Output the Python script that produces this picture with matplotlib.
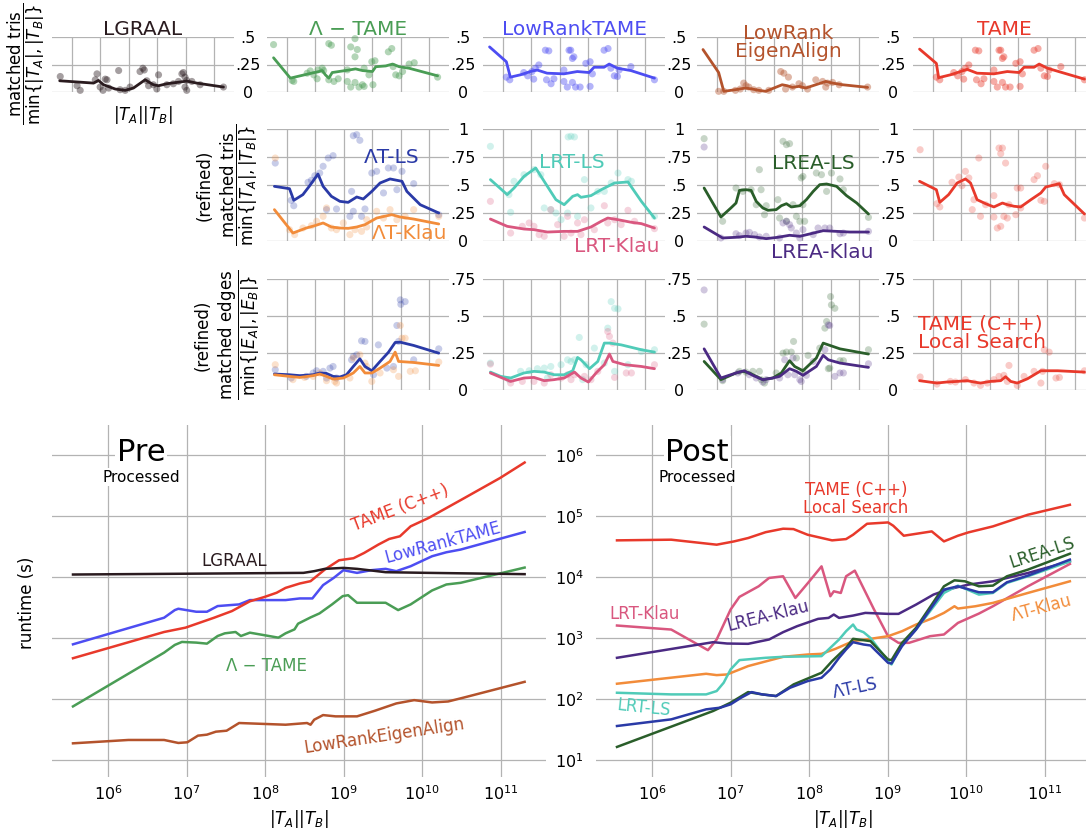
import numpy as np
import matplotlib
matplotlib.use("Agg")
import matplotlib.pyplot as plt
from matplotlib.ticker import NullLocator

plt.rcParams['font.family'] = ['DejaVu Sans']
plt.rcParams['mathtext.fontset'] = 'dejavusans'

# ---------------- colours ----------------
C_LGRAAL = '#2a1b1f'
C_LTAME = '#4a9d55'
C_LRTAME = '#4d4df2'
C_LREA = '#b4532c'
C_TAME = '#e8392b'
C_LTLS = '#2a3aa7'
C_LTKLAU = '#f28c3a'
C_LRTLS = '#50cbb8'
C_LRTKLAU = '#d9577f'
C_LREALS = '#2a5e2a'
C_LREAKLAU = '#4b2a83'

# ================= DATA (x as log10 |TA||TB|) =================
# ---- Row 1: matched tris / min{|TA|,|TB|} (scatter + trend line) ----
lgraal_px = [5.59, 6.18, 6.29, 6.82, 6.88, 6.99, 7.09, 7.17, 7.23, 7.29, 7.64, 7.69, 7.87, 8.04, 8.39, 8.49, 8.54,
             8.63, 8.69, 8.86, 9.04, 8.98, 9.33, 9.56, 9.74, 9.86, 9.91, 9.97, 9.97, 10.03, 10.03, 10.21, 10.5, 11.32]
lgraal_py = [0.141, 0.057, 0.015, 0.111, 0.165, 0.045, 0.015, 0.117, 0.111, 0.036, 0.195, 0.021, 0.015, 0.045, 0.186,
             0.216, 0.2, 0.102, 0.057, 0.066, 0.156, 0.027, 0.066, 0.075, 0.096, 0.165, 0.177, 0.135, 0.045, 0.105,
             0.015, 0.096, 0.066, 0.045]
lgraal_lx = [5.57, 6.76, 6.93, 7.11, 7.52, 7.87, 8.16, 8.57, 8.86, 9.04, 9.33, 10.03, 10.38, 11.32]
lgraal_ly = [0.102, 0.081, 0.105, 0.066, 0.027, 0.015, 0.036, 0.111, 0.066, 0.057, 0.075, 0.099, 0.081, 0.045]

ltame_px = [5.53, 6.18, 6.24, 6.71, 6.82, 6.94, 7.06, 7.09, 7.24, 7.29, 7.47, 7.56, 7.47, 7.65, 7.8, 8.12, 8.12, 8.24,
            8.39, 8.47, 8.39, 8.24, 8.39, 8.53, 8.65, 8.71, 8.71, 8.88, 8.98, 9.09, 9.02, 9.56, 9.68, 9.73, 9.82, 9.94,
            10.06, 10.29, 10.47, 11.29]
ltame_py = [0.431, 0.105, 0.096, 0.171, 0.192, 0.156, 0.12, 0.201, 0.216, 0.195, 0.44, 0.425, 0.111, 0.096, 0.12,
            0.201, 0.096, 0.41, 0.485, 0.386, 0.32, 0.045, 0.087, 0.045, 0.066, 0.051, 0.216, 0.156, 0.275, 0.284,
            0.066, 0.365, 0.395, 0.231, 0.156, 0.147, 0.186, 0.254, 0.266, 0.135]
ltame_lx = [5.53, 6.12, 6.76, 7.12, 7.24, 7.35, 7.47, 7.59, 7.82, 8.18, 8.41, 8.65, 9.0, 9.12, 9.47, 9.71, 9.94, 10.29, 11.29]
ltame_ly = [0.311, 0.126, 0.165, 0.186, 0.195, 0.156, 0.126, 0.177, 0.186, 0.2, 0.21, 0.195, 0.186, 0.23, 0.237,
            0.254, 0.23, 0.216, 0.147]

lrtame_px = [6.12, 6.24, 6.73, 6.87, 7.02, 7.08, 7.26, 7.14, 7.49, 7.61, 7.53, 7.79, 7.69, 8.14, 8.14, 8.26, 8.38, 8.44,
             8.49, 8.32, 8.44, 8.55, 8.71, 8.91, 9.06, 9.06, 9.14, 9.55, 9.69, 9.79, 9.91, 10.02, 10.08, 10.49, 11.32]
lrtame_py = [0.135, 0.111, 0.177, 0.147, 0.186, 0.117, 0.246, 0.216, 0.38, 0.374, 0.111, 0.12, 0.075, 0.2, 0.096,
             0.045, 0.38, 0.305, 0.32, 0.38, 0.087, 0.045, 0.045, 0.26, 0.275, 0.051, 0.165, 0.38, 0.395, 0.216,
             0.147, 0.141, 0.2, 0.231, 0.111]
lrtame_lx = [5.53, 6.12, 6.26, 6.61, 6.96, 7.2, 7.55, 8.14, 8.61, 9.02, 9.2, 9.55, 9.73, 10.02, 10.49, 11.32]
lrtame_ly = [0.41, 0.275, 0.135, 0.156, 0.186, 0.2, 0.171, 0.165, 0.186, 0.177, 0.225, 0.225, 0.254, 0.216, 0.195, 0.126]

lrea_px = [6.06, 6.24, 6.65, 6.82, 6.94, 7.02, 7.12, 7.29, 7.47, 7.82, 8.24, 8.35, 8.51, 8.41, 8.65, 8.88, 9.0, 9.18,
           9.47, 9.71, 9.82, 9.88, 10.06, 10.29, 11.29]
lrea_py = [0.006, 0.006, 0.015, 0.027, 0.081, 0.057, 0.045, 0.021, 0.015, 0.015, 0.186, 0.171, 0.135, 0.027, 0.045,
           0.075, 0.057, 0.027, 0.111, 0.096, 0.045, 0.081, 0.087, 0.066, 0.045]
lrea_lx = [5.51, 6.06, 6.24, 6.65, 7.0, 7.24, 7.47, 7.71, 8.0, 8.29, 8.47, 8.65, 8.88, 9.12, 9.47, 9.82, 10.06, 10.41, 11.29]
lrea_ly = [0.386, 0.177, 0.006, 0.021, 0.036, 0.027, 0.015, 0.006, 0.036, 0.066, 0.057, 0.042, 0.051, 0.036, 0.066,
           0.096, 0.081, 0.066, 0.042]

tame_px = list(lrtame_px)
tame_py = list(lrtame_py)
tame_lx = [5.53, 6.12, 6.2, 6.61, 7.2, 7.55, 8.14, 8.61, 9.02, 9.2, 9.55, 9.73, 10.02, 11.32]
tame_ly = [0.39, 0.26, 0.13, 0.156, 0.206, 0.171, 0.165, 0.186, 0.177, 0.225, 0.225, 0.254, 0.216, 0.117]

# ---- Row 2: refined matched tris ----
ltls_px = [5.59, 6.15, 6.24, 6.74, 6.86, 6.98, 7.15, 7.27, 7.45, 7.62, 7.39, 7.74, 8.27, 8.33, 8.45, 8.56, 8.21, 8.33,
           8.62, 8.74, 8.98, 9.15, 9.39, 9.56, 9.74, 9.86, 10.04, 10.45, 11.33]
ltls_py = [0.696, 0.363, 0.315, 0.524, 0.542, 0.583, 0.607, 0.667, 0.741, 0.762, 0.28, 0.286, 0.443, 0.94, 0.949,
           0.899, 0.22, 0.265, 0.22, 0.286, 0.607, 0.622, 0.429, 0.652, 0.652, 0.458, 0.622, 0.512, 0.235]
ltls_lx = [5.56, 6.09, 6.24, 6.56, 6.8, 7.09, 7.27, 7.56, 7.86, 8.15, 8.45, 8.68, 8.98, 9.27, 9.62, 10.04, 10.21, 10.68, 11.33]
ltls_ly = [0.488, 0.467, 0.363, 0.414, 0.494, 0.598, 0.488, 0.399, 0.354, 0.345, 0.393, 0.375, 0.443, 0.518, 0.554,
           0.533, 0.443, 0.324, 0.25]
ltkl_px = [5.59, 6.09, 6.27, 6.56, 6.86, 7.04, 7.27, 7.39, 7.56, 7.74, 7.98, 8.21, 8.39, 8.62, 8.8, 8.8, 9.15, 9.39,
           9.62, 9.86, 10.15, 10.45, 11.33]
ltkl_py = [0.741, 0.101, 0.057, 0.116, 0.137, 0.176, 0.22, 0.295, 0.116, 0.101, 0.161, 0.057, 0.101, 0.086, 0.19,
           0.125, 0.265, 0.205, 0.28, 0.19, 0.22, 0.28, 0.22]
ltkl_lx = [5.56, 6.21, 6.68, 6.98, 7.27, 7.56, 7.86, 8.15, 8.45, 8.74, 9.15, 9.68, 9.98, 10.45, 11.33]
ltkl_ly = [0.28, 0.071, 0.116, 0.137, 0.161, 0.125, 0.116, 0.113, 0.125, 0.146, 0.205, 0.235, 0.214, 0.196, 0.152]

lrtls_px = [5.56, 6.21, 6.27, 6.39, 6.74, 7.09, 7.33, 7.45, 7.68, 7.86, 8.04, 8.27, 8.29, 8.39, 8.51, 8.62, 8.86, 9.09,
            9.33, 9.56, 9.8, 10.04, 10.39, 10.51, 11.32]
lrtls_py = [0.845, 0.414, 0.256, 0.533, 0.592, 0.637, 0.592, 0.295, 0.28, 0.25, 0.19, 0.25, 0.929, 0.935, 0.929, 0.22,
            0.548, 0.295, 0.443, 0.443, 0.518, 0.607, 0.548, 0.533, 0.22]
lrtls_lx = [5.56, 6.15, 6.39, 6.74, 7.15, 7.56, 7.86, 8.15, 8.45, 8.62, 8.74, 9.09, 9.45, 9.92, 10.39, 10.86, 11.32]
lrtls_ly = [0.548, 0.414, 0.473, 0.577, 0.652, 0.488, 0.369, 0.324, 0.399, 0.414, 0.39, 0.405, 0.458, 0.518, 0.527,
            0.354, 0.205]
lrtkl_px = [5.56, 6.27, 6.68, 6.92, 7.09, 7.27, 7.45, 7.68, 7.92, 8.15, 8.27, 8.39, 8.62, 8.74, 8.86, 9.21, 9.56, 9.68,
            9.92, 10.15, 10.39, 10.62, 11.32]
lrtkl_py = [0.354, 0.071, 0.131, 0.161, 0.131, 0.057, 0.042, 0.28, 0.146, 0.042, 0.22, 0.071, 0.161, 0.057, 0.19,
            0.101, 0.315, 0.161, 0.19, 0.146, 0.274, 0.176, 0.11]
lrtkl_lx = [5.56, 6.15, 6.74, 7.09, 7.56, 8.15, 8.62, 9.09, 9.45, 9.68, 10.04, 10.51, 10.86, 11.32]
lrtkl_ly = [0.196, 0.131, 0.107, 0.101, 0.08, 0.086, 0.086, 0.125, 0.176, 0.205, 0.19, 0.167, 0.155, 0.116]

lreals_px = [5.55, 6.2, 6.67, 6.91, 7.2, 7.38, 7.55, 7.49, 7.67, 7.73, 8.14, 8.2, 8.32, 8.44, 8.55, 8.44, 8.67, 8.79,
             8.91, 8.96, 9.02, 9.02, 9.08, 9.49, 9.67, 9.85, 10.02, 10.32, 10.44, 11.32]
lreals_py = [0.914, 0.176, 0.473, 0.443, 0.458, 0.324, 0.458, 0.637, 0.235, 0.315, 0.369, 0.205, 0.89, 0.86, 0.869,
             0.176, 0.324, 0.22, 0.176, 0.563, 0.577, 0.324, 0.176, 0.607, 0.592, 0.443, 0.607, 0.554, 0.458, 0.211]
lreals_lx = [5.55, 6.14, 6.49, 6.67, 6.79, 7.02, 7.2, 7.38, 7.61, 7.79, 8.08, 8.26, 8.44, 8.61, 8.91, 9.14, 9.38, 9.61,
             9.85, 10.2, 10.55, 10.91, 11.32]
lreals_ly = [0.473, 0.214, 0.295, 0.339, 0.452, 0.458, 0.452, 0.354, 0.295, 0.274, 0.28, 0.315, 0.333, 0.304, 0.315,
             0.369, 0.443, 0.503, 0.509, 0.488, 0.405, 0.339, 0.241]
lreakl_px = [5.55, 6.14, 6.67, 6.79, 7.02, 7.14, 7.32, 7.49, 7.73, 8.2, 8.32, 8.44, 8.55, 8.61, 8.79, 8.91, 9.02, 9.38,
             9.55, 9.79, 9.96, 10.32, 10.44, 11.32]
lreakl_py = [0.839, 0.027, 0.065, 0.048, 0.071, 0.077, 0.057, 0.036, 0.042, 0.027, 0.161, 0.176, 0.146, 0.116, 0.071,
             0.027, 0.101, 0.057, 0.116, 0.116, 0.116, 0.065, 0.071, 0.086]
lreakl_lx = [5.55, 6.2, 6.67, 7.02, 7.32, 7.73, 8.14, 8.55, 8.91, 9.26, 9.73, 10.2, 10.67, 11.32]
lreakl_ly = [0.125, 0.027, 0.033, 0.042, 0.036, 0.021, 0.033, 0.051, 0.042, 0.063, 0.092, 0.086, 0.08, 0.08]

tamer_px = [5.55, 6.14, 6.24, 6.67, 6.91, 7.02, 7.14, 7.26, 7.38, 7.44, 7.61, 7.67, 7.85, 8.14, 8.14, 8.26, 8.32, 8.44,
            8.38, 8.38, 8.55, 8.49, 8.61, 8.67, 8.91, 8.96, 9.08, 9.08, 9.55, 9.67, 9.79, 9.91, 9.96, 10.26, 10.44, 11.32]
tamer_py = [0.815, 0.333, 0.304, 0.524, 0.571, 0.494, 0.622, 0.563, 0.28, 0.369, 0.741, 0.22, 0.324, 0.405, 0.214,
            0.116, 0.83, 0.83, 0.78, 0.131, 0.696, 0.22, 0.205, 0.324, 0.235, 0.473, 0.473, 0.295, 0.548, 0.583, 0.363,
            0.354, 0.667, 0.512, 0.503, 0.205]
tamer_lx = [5.53, 6.12, 6.24, 6.55, 6.85, 7.14, 7.32, 7.55, 7.85, 8.14, 8.44, 8.61, 8.85, 9.08, 9.44, 9.79, 9.96,
            10.44, 10.61, 11.32]
tamer_ly = [0.533, 0.458, 0.345, 0.414, 0.518, 0.554, 0.518, 0.369, 0.333, 0.304, 0.339, 0.324, 0.31, 0.304, 0.369,
            0.429, 0.482, 0.512, 0.414, 0.241]

# ---- Row 3: refined matched edges ----
ltls_ex = [5.59, 6.15, 6.68, 6.92, 7.04, 7.27, 7.51, 7.62, 7.39, 7.74, 8.27, 8.33, 8.45, 8.62, 8.74, 9.04, 9.21, 9.51,
           9.74, 9.86, 9.92, 9.98, 10.0, 10.15, 10.45, 11.33]
ltls_ey = [0.137, 0.081, 0.092, 0.115, 0.13, 0.126, 0.148, 0.159, 0.081, 0.081, 0.204, 0.227, 0.238, 0.332, 0.328,
           0.103, 0.305, 0.148, 0.159, 0.436, 0.328, 0.609, 0.579, 0.597, 0.204, 0.278]
ltls_elx = [5.56, 6.09, 6.45, 6.92, 7.15, 7.39, 7.62, 7.86, 8.09, 8.33, 8.56, 8.74, 8.98, 9.27, 9.56, 9.8, 9.98, 10.45, 11.33]
ltls_ely = [0.108, 0.103, 0.097, 0.103, 0.115, 0.112, 0.092, 0.088, 0.103, 0.159, 0.211, 0.159, 0.13, 0.193, 0.254,
            0.321, 0.323, 0.301, 0.249]
ltkl_ex = [5.59, 6.21, 6.62, 6.92, 7.15, 7.39, 7.68, 7.74, 8.21, 8.33, 8.56, 8.74, 8.8, 8.98, 9.27, 9.74, 9.92, 9.98,
           10.04, 10.15, 10.33, 10.51, 11.33]
ltkl_ey = [0.171, 0.07, 0.085, 0.092, 0.115, 0.063, 0.058, 0.047, 0.081, 0.216, 0.238, 0.182, 0.159, 0.058, 0.115,
           0.137, 0.092, 0.436, 0.35, 0.35, 0.126, 0.13, 0.189]
ltkl_elx = [5.56, 6.09, 6.45, 6.92, 7.15, 7.39, 7.62, 7.98, 8.33, 8.56, 8.74, 8.98, 9.27, 9.62, 9.8, 9.92, 10.45, 11.33]
ltkl_ely = [0.103, 0.092, 0.085, 0.097, 0.108, 0.092, 0.074, 0.081, 0.115, 0.159, 0.115, 0.115, 0.148, 0.193, 0.256,
            0.193, 0.186, 0.166]

lrtls_ex = [5.56, 6.21, 6.62, 6.92, 7.21, 7.45, 7.56, 7.68, 8.04, 8.27, 8.39, 8.51, 8.68, 8.8, 8.92, 9.21, 9.56, 9.68,
            9.8, 9.92, 10.04, 9.92, 10.39, 10.86, 11.32]
lrtls_ey = [0.182, 0.07, 0.126, 0.13, 0.144, 0.148, 0.081, 0.159, 0.171, 0.204, 0.193, 0.204, 0.355, 0.07, 0.171,
            0.283, 0.182, 0.418, 0.597, 0.552, 0.548, 0.126, 0.171, 0.26, 0.272]
lrtls_elx = [5.56, 5.92, 6.27, 6.74, 7.09, 7.45, 7.8, 8.15, 8.45, 8.62, 8.74, 9.04, 9.33, 9.56, 9.74, 10.15, 10.86, 11.32]
lrtls_ely = [0.121, 0.092, 0.081, 0.115, 0.126, 0.121, 0.103, 0.103, 0.13, 0.22, 0.204, 0.144, 0.193, 0.317, 0.317,
             0.305, 0.272, 0.256]
lrtkl_ex = [5.56, 6.27, 6.68, 7.09, 7.45, 7.68, 8.04, 8.27, 8.39, 8.51, 8.86, 9.09, 9.33, 9.68, 9.74, 9.86, 9.92,
            10.33, 10.51, 11.32]
lrtkl_ey = [0.175, 0.047, 0.058, 0.058, 0.047, 0.103, 0.081, 0.103, 0.07, 0.103, 0.092, 0.07, 0.126, 0.395, 0.362,
            0.317, 0.085, 0.115, 0.115, 0.171]
lrtkl_elx = [5.56, 5.98, 6.27, 6.74, 7.09, 7.45, 7.8, 8.15, 8.51, 8.74, 9.0, 9.27, 9.56, 9.74, 9.86, 10.27, 10.86, 11.32]
lrtkl_ely = [0.115, 0.081, 0.058, 0.081, 0.085, 0.063, 0.07, 0.081, 0.121, 0.081, 0.054, 0.115, 0.171, 0.243, 0.193,
             0.171, 0.159, 0.144]

lreals_ex = [5.55, 6.2, 6.79, 7.02, 7.26, 7.49, 7.55, 7.67, 8.08, 8.32, 8.44, 8.61, 8.69, 8.79, 9.02, 9.2, 9.61, 9.79,
             9.85, 9.99, 10.02, 10.14, 9.91, 9.96, 10.32, 10.44, 11.32]
lreals_ey = [0.445, 0.063, 0.126, 0.121, 0.126, 0.126, 0.07, 0.047, 0.115, 0.249, 0.256, 0.256, 0.328, 0.216, 0.121,
             0.234, 0.283, 0.418, 0.463, 0.631, 0.575, 0.552, 0.144, 0.148, 0.198, 0.198, 0.272]
lreals_elx = [5.55, 6.14, 6.67, 6.91, 7.14, 7.61, 7.96, 8.26, 8.55, 8.73, 9.02, 9.49, 9.73, 9.91, 10.32, 11.32]
lreals_ely = [0.193, 0.07, 0.115, 0.126, 0.115, 0.07, 0.081, 0.115, 0.198, 0.159, 0.13, 0.216, 0.317, 0.305, 0.278, 0.243]
lreakl_ex = [5.55, 6.2, 6.73, 7.14, 7.38, 7.61, 7.73, 8.2, 8.38, 8.49, 8.67, 8.73, 8.91, 8.96, 9.14, 9.38, 9.79, 9.91,
             9.96, 10.14, 10.32, 10.44, 11.32]
lreakl_ey = [0.676, 0.07, 0.115, 0.103, 0.081, 0.054, 0.07, 0.081, 0.204, 0.103, 0.216, 0.103, 0.07, 0.058, 0.099,
             0.193, 0.272, 0.44, 0.436, 0.092, 0.115, 0.115, 0.177]
lreakl_elx = [5.55, 6.14, 6.67, 6.96, 7.26, 7.61, 7.96, 8.2, 8.55, 8.79, 9.02, 9.49, 9.73, 9.91, 10.32, 11.32]
lreakl_ely = [0.278, 0.081, 0.115, 0.13, 0.099, 0.07, 0.081, 0.092, 0.144, 0.126, 0.099, 0.159, 0.234, 0.204, 0.182, 0.153]

tamels_ex = [5.55, 6.14, 6.61, 6.79, 7.14, 7.44, 7.67, 7.91, 8.14, 8.32, 8.49, 8.67, 8.61, 8.96, 9.2, 9.55, 9.79, 9.85,
             9.91, 10.08, 10.32, 10.44, 11.32]
tamels_ey = [0.088, 0.04, 0.058, 0.054, 0.07, 0.047, 0.031, 0.047, 0.07, 0.092, 0.099, 0.166, 0.058, 0.031, 0.092,
             0.126, 0.047, 0.126, 0.272, 0.256, 0.081, 0.085, 0.13]
tamels_elx = [5.53, 6.14, 6.49, 6.85, 7.2, 7.44, 7.67, 8.02, 8.38, 8.55, 8.73, 8.96, 9.32, 9.79, 10.38, 11.32]
tamels_ely = [0.063, 0.047, 0.054, 0.058, 0.063, 0.054, 0.047, 0.058, 0.063, 0.09, 0.058, 0.047, 0.076, 0.13, 0.13, 0.121]

# ---- Bottom: runtimes (log10 x, log10 seconds) ----
pre_tame_x = [5.555, 6.714, 6.986, 7.35, 7.577, 7.805, 7.986, 8.145, 8.259, 8.44, 8.577, 8.759, 8.94, 9.123, 9.259,
              9.44, 9.577, 9.714, 9.85, 10.077, 10.53, 10.986, 11.30]
pre_tame_y = [2.667, 3.097, 3.168, 3.331, 3.44, 3.60, 3.669, 3.74, 3.82, 3.892, 3.93, 4.121, 4.273, 4.306, 4.393,
              4.53, 4.622, 4.666, 4.829, 4.965, 5.29, 5.62, 5.875]
pre_lrtame_x = [5.555, 6.714, 6.85, 6.895, 7.123, 7.259, 7.395, 7.668, 7.805, 8.259, 8.44, 8.6, 8.736, 8.873, 8.995,
                9.168, 9.35, 9.532, 9.668, 9.85, 10.123, 10.305, 10.486, 11.30]
pre_lrtame_y = [2.895, 3.331, 3.456, 3.478, 3.429, 3.429, 3.522, 3.549, 3.62, 3.62, 3.647, 3.647, 3.865, 3.985, 4.11,
                4.066, 4.11, 4.132, 4.094, 4.175, 4.339, 4.404, 4.448, 4.736]
pre_lgraal_x = [5.555, 8.486, 8.623, 8.759, 8.995, 9.168, 9.35, 9.532, 10.077, 11.30]
pre_lgraal_y = [4.039, 4.066, 4.094, 4.132, 4.148, 4.132, 4.105, 4.077, 4.066, 4.045]
pre_ltame_x = [5.555, 6.714, 6.85, 6.941, 7.123, 7.259, 7.395, 7.486, 7.623, 7.691, 7.805, 8.168, 8.259, 8.373, 8.418,
               8.577, 8.691, 8.85, 8.986, 9.055, 9.168, 9.532, 9.691, 9.85, 10.123, 10.305, 10.486, 11.30]
pre_ltame_y = [1.877, 2.759, 2.885, 2.934, 2.923, 2.906, 3.031, 3.075, 3.097, 3.031, 3.086, 3.004, 3.075, 3.14, 3.233,
               3.336, 3.402, 3.549, 3.685, 3.70, 3.576, 3.576, 3.456, 3.549, 3.778, 3.876, 3.903, 4.153]
pre_lrea_x = [5.555, 6.259, 6.714, 6.895, 7.009, 7.145, 7.259, 7.373, 7.509, 7.668, 8.259, 8.532, 8.577, 8.623, 8.736,
              8.895, 9.168, 9.395, 9.668, 9.895, 10.123, 10.327, 10.532, 11.30]
pre_lrea_y = [1.272, 1.327, 1.327, 1.278, 1.289, 1.398, 1.414, 1.463, 1.479, 1.605, 1.577, 1.605, 1.577, 1.659, 1.735,
              1.714, 1.714, 1.806, 1.926, 1.98, 1.942, 1.958, 2.024, 2.28]

post_tame_x = [5.555, 6.245, 6.823, 7.045, 7.223, 7.446, 7.668, 7.80, 7.98, 8.291, 8.469, 8.558, 8.736, 9.003, 9.069,
               9.203, 9.559, 9.714, 9.892, 10.026, 10.337, 10.782, 11.316]
post_tame_y = [4.599, 4.61, 4.528, 4.582, 4.637, 4.733, 4.79, 4.784, 4.691, 4.599, 4.62, 4.691, 4.871, 4.893, 4.839,
               4.675, 4.746, 4.582, 4.675, 4.73, 4.828, 5.019, 5.182]
post_lrtkl_x = [5.555, 6.245, 6.712, 6.823, 7.0, 7.112, 7.357, 7.49, 7.668, 7.824, 8.002, 8.157, 8.269, 8.313, 8.402,
                8.469, 8.58, 8.825, 9.003, 9.136, 9.27, 9.537, 9.714, 9.892, 10.159, 10.337, 10.782, 11.316]
post_lrtkl_y = [3.203, 3.137, 2.799, 2.974, 3.465, 3.672, 3.846, 3.983, 4.01, 3.655, 3.928, 4.173, 3.683, 3.764, 3.737,
                4.01, 4.103, 3.465, 3.028, 2.919, 2.919, 3.028, 3.056, 3.246, 3.399, 3.519, 3.846, 4.212]
post_lreakl_x = [5.555, 6.778, 6.956, 7.223, 7.49, 7.668, 7.846, 8.113, 8.246, 8.313, 8.38, 8.558, 8.714, 9.003, 9.136,
                 9.359, 9.581, 9.759, 10.026, 10.337, 10.782, 11.316]
post_lreakl_y = [2.674, 2.93, 2.908, 2.903, 2.974, 3.094, 3.192, 3.312, 3.328, 3.383, 3.328, 3.366, 3.41, 3.394, 3.394,
                 3.546, 3.71, 3.792, 3.874, 3.928, 4.064, 4.255]
post_ltkl_x = [5.555, 6.689, 6.823, 6.956, 7.223, 7.668, 7.98, 8.157, 8.335, 8.558, 8.78, 9.003, 9.181, 9.359, 9.581,
               9.714, 9.848, 9.892, 10.115, 10.337, 10.782, 11.316]
post_ltkl_y = [2.249, 2.412, 2.39, 2.401, 2.538, 2.69, 2.728, 2.739, 2.821, 2.947, 2.985, 3.028, 3.11, 3.219, 3.328,
               3.41, 3.519, 3.481, 3.519, 3.574, 3.737, 3.928]
post_lrtls_x = [5.555, 6.245, 6.689, 6.823, 6.912, 7.0, 7.112, 7.446, 7.668, 8.157, 8.246, 8.38, 8.469, 8.558, 8.602,
                8.691, 8.78, 9.003, 9.047, 9.181, 9.359, 9.537, 9.714, 9.892, 10.159, 10.337, 10.515, 10.782, 11.316]
post_lrtls_y = [2.101, 2.074, 2.074, 2.129, 2.265, 2.483, 2.636, 2.674, 2.69, 2.701, 2.81, 2.974, 3.11, 3.219, 3.137,
                3.094, 2.999, 2.619, 2.565, 2.892, 3.137, 3.437, 3.737, 3.857, 3.71, 3.737, 3.901, 4.01, 4.255]
post_ltls_x = [5.555, 6.245, 6.689, 6.867, 7.0, 7.134, 7.268, 7.401, 7.579, 7.757, 7.98, 8.157, 8.269, 8.38, 8.469,
               8.558, 8.691, 8.78, 9.003, 9.047, 9.181, 9.359, 9.537, 9.714, 9.892, 10.159, 10.337, 10.515, 10.782, 11.316]
post_ltls_y = [1.556, 1.665, 1.829, 1.856, 1.911, 2.02, 2.112, 2.074, 2.047, 2.183, 2.292, 2.347, 2.483, 2.674, 2.81,
               2.93, 2.892, 2.876, 2.592, 2.581, 2.865, 3.137, 3.465, 3.792, 3.846, 3.748, 3.748, 3.912, 4.021, 4.283]
post_lreals_x = [5.555, 6.778, 7.0, 7.223, 7.401, 7.579, 7.802, 8.157, 8.291, 8.469, 8.558, 8.78, 9.003, 9.047, 9.181,
                 9.359, 9.559, 9.714, 9.848, 9.981, 10.159, 10.337, 10.515, 10.782, 11.316]
post_lreals_y = [1.213, 1.802, 1.938, 2.112, 2.074, 2.047, 2.238, 2.429, 2.619, 2.838, 2.985, 2.947, 2.647, 2.636,
                 2.919, 3.165, 3.546, 3.846, 3.944, 3.928, 3.846, 3.857, 4.01, 4.119, 4.38]

# ================= FIGURE =================
W, H = 1086, 834
fig = plt.figure(figsize=(W / 100, H / 100), dpi=100)
GRID = dict(color='#b3b3b3', lw=0.9)


def add_ax(l, t, r, b):
    return fig.add_axes([l / W, 1 - b / H, (r - l) / W, (b - t) / H])


def dec(v):
    return 10.0 ** np.asarray(v)


COL_L = [52, 267, 483, 697, 913]
COL_W = 182
ROWS = [(37, 92), (129, 241), (279, 390)]
ROW_TICKS = [([0, 0.25, 0.5], ['0', '.25', '.5']),
             ([0, 0.25, 0.5, 0.75, 1.0], ['0', '.25', '.5', '.75', '1']),
             ([0, 0.25, 0.5, 0.75], ['0', '.25', '.5', '.75'])]


def small_ax(row, col, show_labels):
    t, b = ROWS[row]
    l = COL_L[col]
    ax = add_ax(l, t, l + COL_W, b)
    ax.set_xscale('log')
    ax.set_xlim(10 ** 5.30, 10 ** 11.69)
    ax.set_xticks(dec(range(6, 12)))
    ax.xaxis.set_minor_locator(NullLocator())
    ax.set_xticklabels([])
    ticks, labs = ROW_TICKS[row]
    ax.set_ylim(ticks[0], ticks[-1])
    ax.set_yticks(ticks)
    ax.yaxis.tick_right()
    if show_labels:
        ax.set_yticklabels(labs, fontsize=11.5, ha='center')
    else:
        ax.set_yticklabels([])
    ax.tick_params(length=0, pad=10)
    ax.grid(True, **GRID)
    ax.set_axisbelow(True)
    for s in ax.spines.values():
        s.set_visible(False)
    return ax


def draw(ax, px, py, lx, ly, color, alpha):
    ax.scatter(dec(px), py, s=26, color=color, alpha=alpha, edgecolors='none', clip_on=False, zorder=2)
    ax.plot(dec(lx), ly, color=color, lw=2.0, clip_on=False, zorder=3, solid_capstyle='round')


A1, A2 = 0.42, 0.26

# ---- row 1 ----
row1 = [('LGRAAL', C_LGRAAL, lgraal_px, lgraal_py, lgraal_lx, lgraal_ly, 1.036),
        ('Λ − TAME', C_LTAME, ltame_px, ltame_py, ltame_lx, ltame_ly, 1.036),
        ('LowRankTAME', C_LRTAME, lrtame_px, lrtame_py, lrtame_lx, lrtame_ly, 1.036),
        ('LowRank\nEigenAlign', C_LREA, lrea_px, lrea_py, lrea_lx, lrea_ly, 0.64),
        ('TAME', C_TAME, tame_px, tame_py, tame_lx, tame_ly, 1.036)]
for col, (title, c, px, py, lx, ly, ty) in enumerate(row1):
    ax = small_ax(0, col, col < 4)
    draw(ax, px, py, lx, ly, c, A1)
    ax.text(0.5, ty, title, transform=ax.transAxes, ha='center', va='baseline', fontsize=14.5,
            color=c, linespacing=0.95, zorder=5)
    if col == 0:
        ax.text(0.5, -0.42, r'$|T_A||T_B|$', transform=ax.transAxes, ha='center', va='center', fontsize=12)

# ---- row 2 ----
ax = small_ax(1, 1, True)
draw(ax, ltls_px, ltls_py, ltls_lx, ltls_ly, C_LTLS, A2)
draw(ax, ltkl_px, ltkl_py, ltkl_lx, ltkl_ly, C_LTKLAU, A2)
ax.text(0.687, 0.694, 'ΛT-LS', transform=ax.transAxes, ha='center', va='baseline', fontsize=14.5, color=C_LTLS)
ax.text(0.786, 0.018, 'ΛT-Klau', transform=ax.transAxes, ha='center', va='baseline', fontsize=14.5, color=C_LTKLAU)

ax = small_ax(1, 2, True)
draw(ax, lrtls_px, lrtls_py, lrtls_lx, lrtls_ly, C_LRTLS, A2)
draw(ax, lrtkl_px, lrtkl_py, lrtkl_lx, lrtkl_ly, C_LRTKLAU, A2)
ax.text(0.487, 0.649, 'LRT-LS', transform=ax.transAxes, ha='center', va='baseline', fontsize=14.5, color=C_LRTLS)
ax.text(0.736, -0.095, 'LRT-Klau', transform=ax.transAxes, ha='center', va='baseline', fontsize=14.5, color=C_LRTKLAU)

ax = small_ax(1, 3, True)
draw(ax, lreals_px, lreals_py, lreals_lx, lreals_ly, C_LREALS, A2)
draw(ax, lreakl_px, lreakl_py, lreakl_lx, lreakl_ly, C_LREAKLAU, A2)
ax.text(0.639, 0.64, 'LREA-LS', transform=ax.transAxes, ha='center', va='baseline', fontsize=14.5, color=C_LREALS)
ax.text(0.689, -0.149, 'LREA-Klau', transform=ax.transAxes, ha='center', va='baseline', fontsize=14.5,
        color=C_LREAKLAU)

ax = small_ax(1, 4, False)
draw(ax, tamer_px, tamer_py, tamer_lx, tamer_ly, C_TAME, A2)

# ---- row 3 ----
ax = small_ax(2, 1, True)
draw(ax, ltls_ex, ltls_ey, ltls_elx, ltls_ely, C_LTLS, A2)
draw(ax, ltkl_ex, ltkl_ey, ltkl_elx, ltkl_ely, C_LTKLAU, A2)
ax = small_ax(2, 2, True)
draw(ax, lrtls_ex, lrtls_ey, lrtls_elx, lrtls_ely, C_LRTLS, A2)
draw(ax, lrtkl_ex, lrtkl_ey, lrtkl_elx, lrtkl_ely, C_LRTKLAU, A2)
ax = small_ax(2, 3, True)
draw(ax, lreals_ex, lreals_ey, lreals_elx, lreals_ely, C_LREALS, A2)
draw(ax, lreakl_ex, lreakl_ey, lreakl_elx, lreakl_ely, C_LREAKLAU, A2)
ax = small_ax(2, 4, False)
draw(ax, tamels_ex, tamels_ey, tamels_elx, tamels_ely, C_TAME, A2)
ax.text(0.027, 0.38, 'TAME (C++)\nLocal Search', transform=ax.transAxes, ha='left', va='baseline',
        fontsize=14.5, color=C_TAME, linespacing=0.95)

# ---- small y labels ----
frac_t = r'$\dfrac{\mathrm{matched\ tris}}{\min\{|T_A|,|T_B|\}}$'
frac_e = r'$\dfrac{\mathrm{matched\ edges}}{\min\{|E_A|,|E_B|\}}$'
fig.text(26 / W, 1 - 64 / H, frac_t, rotation=90, ha='center', va='center', fontsize=12)
fig.text(228 / W, 1 - 185 / H, '(refined)\n' + frac_t, rotation=90, ha='center', va='center', fontsize=12,
         multialignment='center')
fig.text(228 / W, 1 - 335 / H, '(refined)\n' + frac_e, rotation=90, ha='center', va='center', fontsize=12,
         multialignment='center')

# ================= BOTTOM PANELS =================
BIG_XLIM = (10 ** 5.288, 10 ** 11.572)
BIG_YLIM = (10 ** 0.72, 10 ** 6.49)


def big_ax(l, r, show_y):
    ax = add_ax(l, 425, r, 777)
    ax.set_xscale('log')
    ax.set_yscale('log')
    ax.set_xlim(*BIG_XLIM)
    ax.set_ylim(*BIG_YLIM)
    ax.set_xticks(dec(range(6, 12)))
    ax.set_yticks(dec(range(1, 7)))
    ax.xaxis.set_minor_locator(NullLocator())
    ax.yaxis.set_minor_locator(NullLocator())
    ax.yaxis.tick_right()
    ax.tick_params(axis='x', length=0, pad=5, labelsize=11.5)
    ax.tick_params(axis='y', length=0, pad=17, labelsize=11.5)
    if show_y:
        plt.setp(ax.get_yticklabels(), ha='center')
    else:
        ax.set_yticklabels([])
    ax.grid(True, **GRID)
    ax.set_axisbelow(True)
    for s in ax.spines.values():
        s.set_visible(False)
    ax.set_xlabel(r'$|T_A||T_B|$', fontsize=12, labelpad=4)
    return ax


LW = 1.8
axp = big_ax(52, 546, True)
axp.plot(dec(pre_lrea_x), dec(pre_lrea_y), color=C_LREA, lw=LW)
axp.plot(dec(pre_ltame_x), dec(pre_ltame_y), color=C_LTAME, lw=LW)
axp.plot(dec(pre_lrtame_x), dec(pre_lrtame_y), color=C_LRTAME, lw=LW)
axp.plot(dec(pre_tame_x), dec(pre_tame_y), color=C_TAME, lw=LW)
axp.plot(dec(pre_lgraal_x), dec(pre_lgraal_y), color=C_LGRAAL, lw=LW)
pre_labels = [('TAME (C++)', 9.714, 5.13, C_TAME, 21),
              ('LowRankTAME', 10.26, 4.557, C_LRTAME, 15),
              ('LGRAAL', 7.6, 4.257, C_LGRAAL, 0),
              ('Λ − TAME', 8.01, 2.54, C_LTAME, 0),
              ('LowRankEigenAlign', 9.51, 1.40, C_LREA, 8.6)]
for txt, x, y, c, rot in pre_labels:
    axp.text(10 ** x, 10 ** y, txt, color=c, fontsize=12, rotation=rot, ha='center', va='center',
             rotation_mode='anchor')
axp.text(0.18, 0.922, 'Pre', transform=axp.transAxes, ha='center', va='center', fontsize=22,
         bbox=dict(fc='white', ec='none', pad=1))
axp.text(0.18, 0.852, 'Processed', transform=axp.transAxes, ha='center', va='center', fontsize=11,
         bbox=dict(fc='white', ec='none', pad=1))
fig.text(27 / W, 1 - 603 / H, 'runtime (s)', rotation=90, ha='center', va='center', fontsize=12)

axq = big_ax(596, 1090, False)
axq.plot(dec(post_tame_x), dec(post_tame_y), color=C_TAME, lw=LW)
axq.plot(dec(post_lrtkl_x), dec(post_lrtkl_y), color=C_LRTKLAU, lw=LW)
axq.plot(dec(post_lreakl_x), dec(post_lreakl_y), color=C_LREAKLAU, lw=LW)
axq.plot(dec(post_ltkl_x), dec(post_ltkl_y), color=C_LTKLAU, lw=LW)
axq.plot(dec(post_lrtls_x), dec(post_lrtls_y), color=C_LRTLS, lw=LW)
axq.plot(dec(post_lreals_x), dec(post_lreals_y), color=C_LREALS, lw=LW)
axq.plot(dec(post_ltls_x), dec(post_ltls_y), color=C_LTLS, lw=LW)
post_labels = [('TAME (C++)\nLocal Search', 8.593, 5.275, C_TAME, 0),
               ('LRT-Klau', 5.91, 3.40, C_LRTKLAU, 0),
               ('LREA-Klau', 7.48, 3.36, C_LREAKLAU, 14),
               ('LRT-LS', 5.90, 1.856, C_LRTLS, -6),
               ('ΛT-LS', 8.58, 2.167, C_LTLS, 12),
               ('LREA-LS', 10.96, 4.39, C_LREALS, 18),
               ('ΛT-Klau', 10.96, 3.49, C_LTKLAU, 15)]
for txt, x, y, c, rot in post_labels:
    axq.text(10 ** x, 10 ** y, txt, color=c, fontsize=12, rotation=rot, ha='center', va='center',
             rotation_mode='anchor', linespacing=0.95)
axq.text(0.205, 0.922, 'Post', transform=axq.transAxes, ha='center', va='center', fontsize=22,
         bbox=dict(fc='white', ec='none', pad=1))
axq.text(0.205, 0.852, 'Processed', transform=axq.transAxes, ha='center', va='center', fontsize=11,
         bbox=dict(fc='white', ec='none', pad=1))

fig.savefig('out.png', dpi=100)
